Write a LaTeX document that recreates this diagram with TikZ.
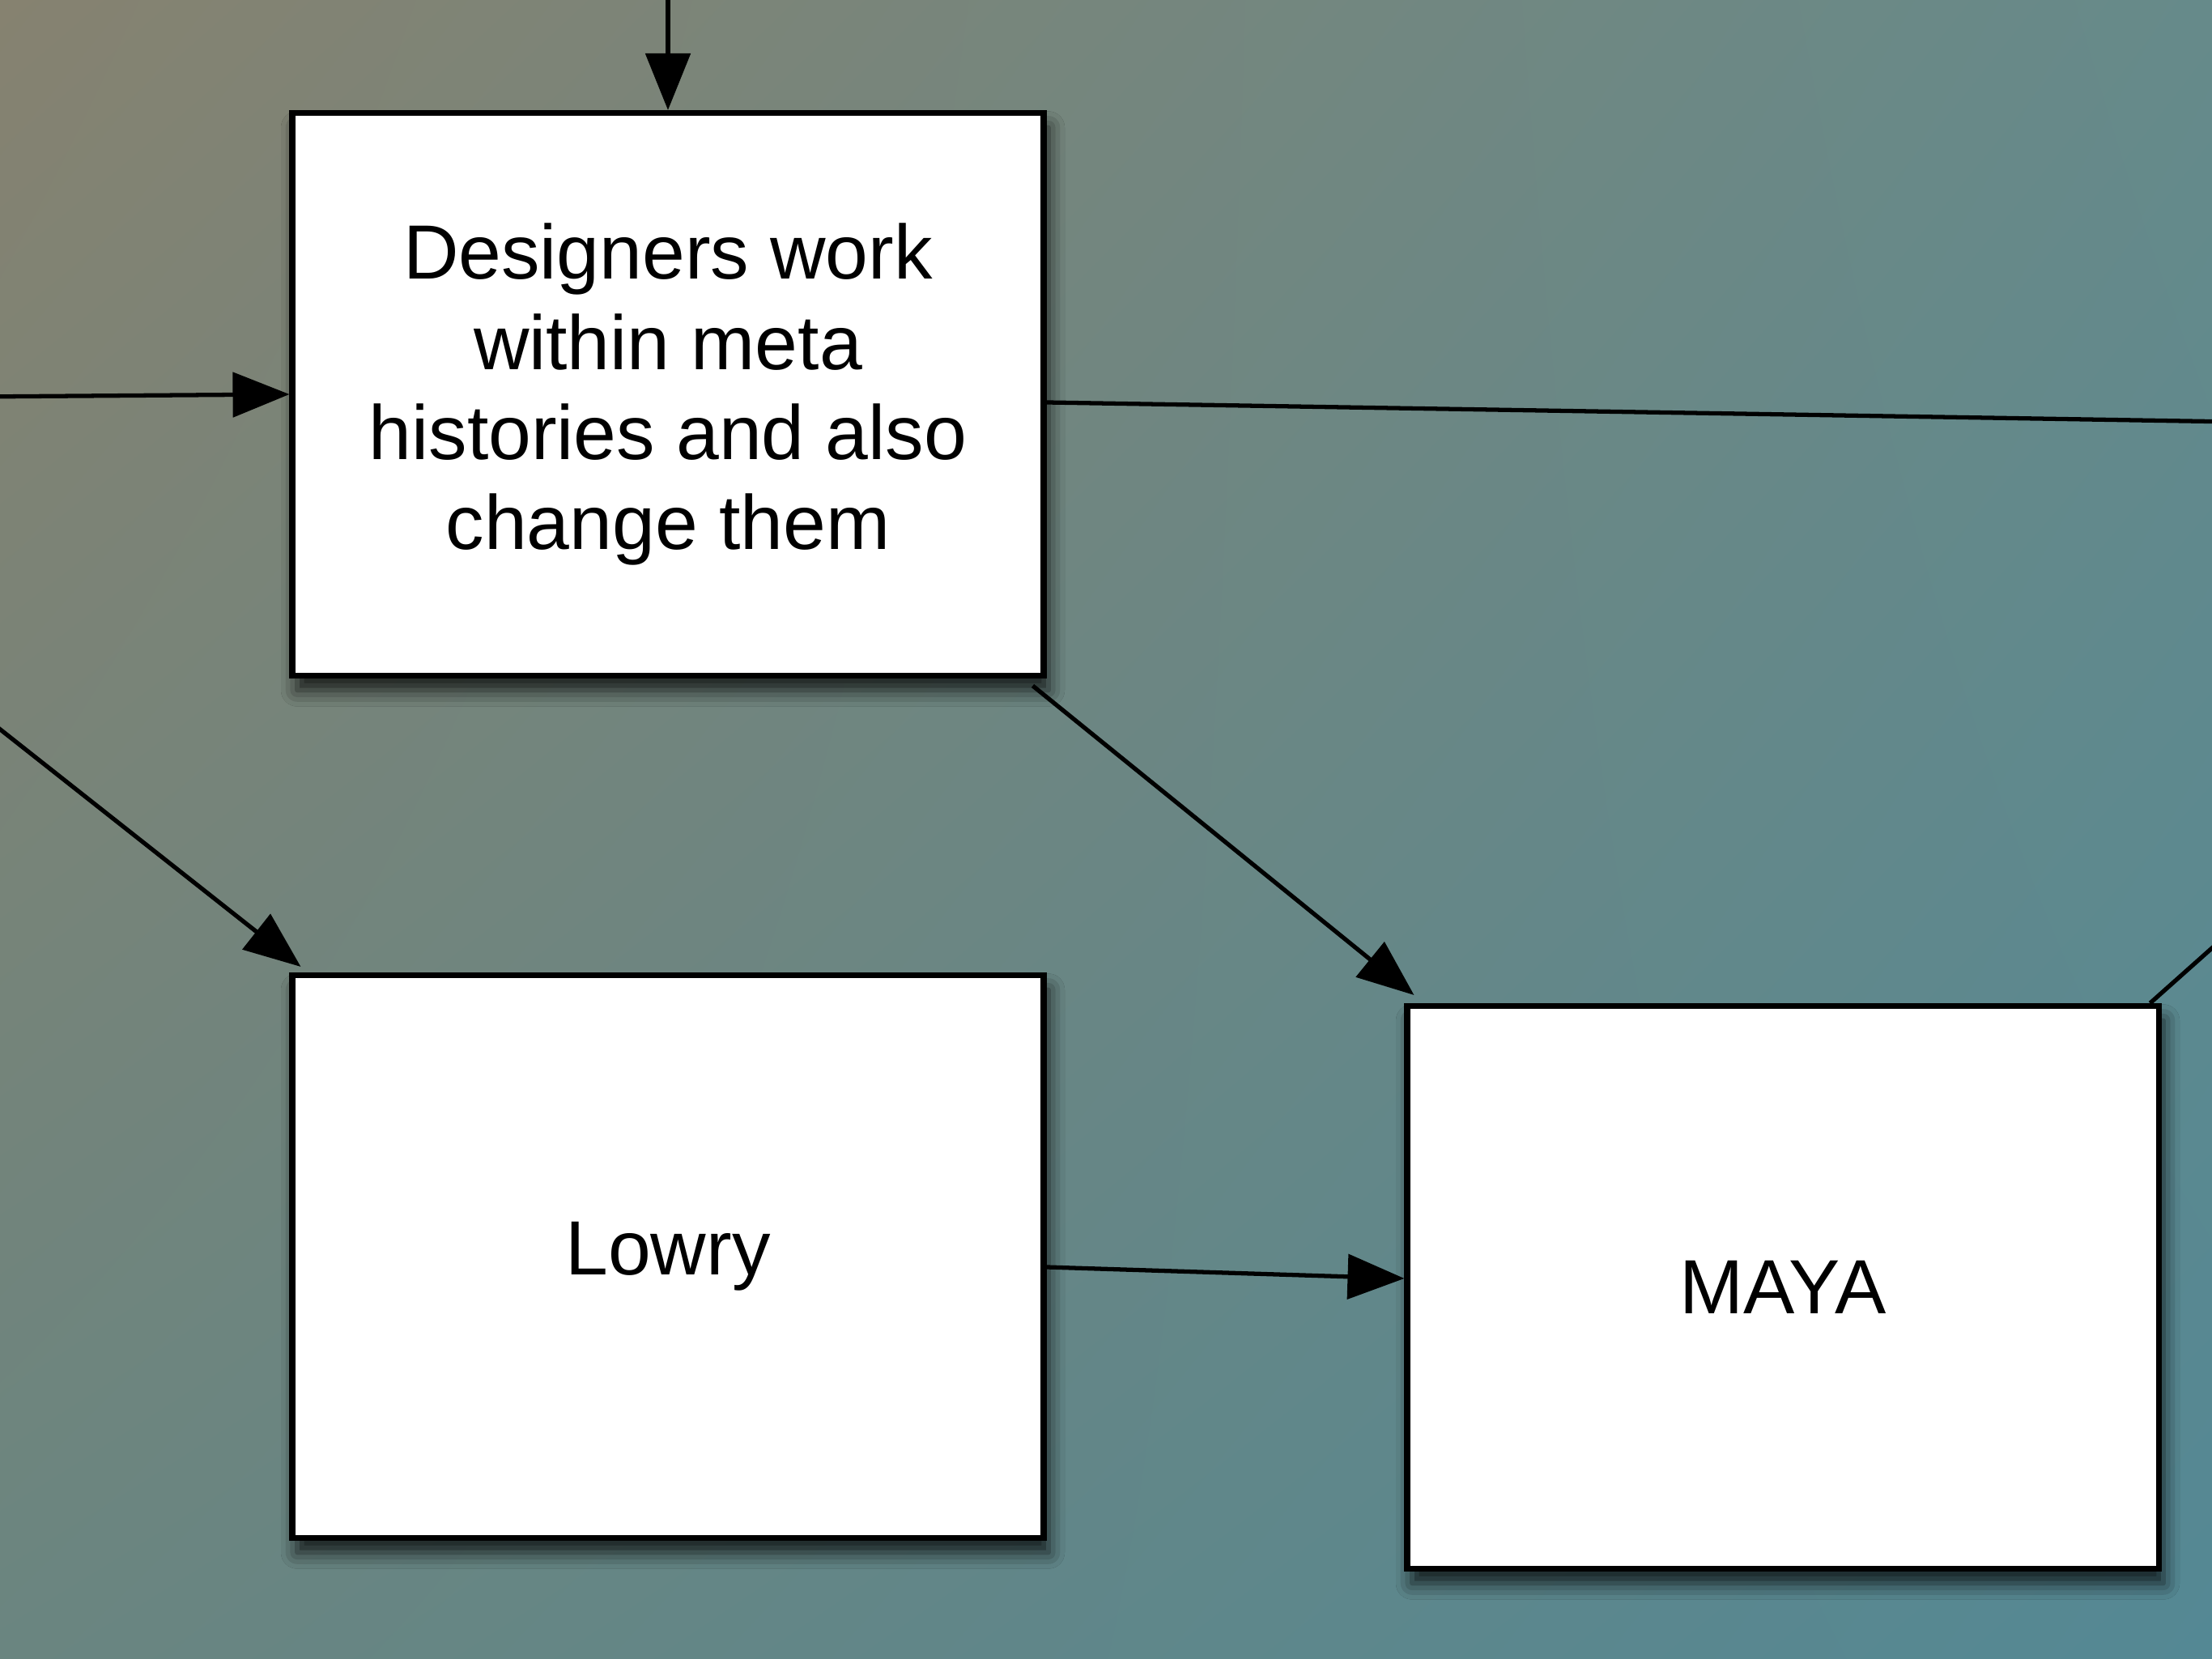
\documentclass[tikz,border=0pt]{standalone}
\usepackage{fontspec}
\setmainfont{Liberation Sans}
\usepackage{xcolor}
\definecolor{bgtl}{RGB}{134,130,112}
\definecolor{bgtr}{RGB}{102,138,138}
\definecolor{bgbl}{RGB}{106,133,128}
\definecolor{bgbr}{RGB}{84,136,148}
\usepackage{tikz}
\usetikzlibrary{arrows.meta, positioning, shadings, shadows.blur}

\tikzset{
  stepbox/.style={draw=black, line width=2pt, fill=white, minimum width=9.28cm, minimum height=6.95cm,
    align=center, font=\fontsize{27}{31.6}\selectfont,
    blur shadow={shadow xshift=0.06cm, shadow yshift=-0.18cm, shadow blur radius=0.2cm, shadow opacity=80}},
  flow/.style={-{Triangle[length=0.7cm, width=0.55cm]}, line width=1.5pt, black},
  link/.style={line width=1.5pt, black}
}

\begin{document}
\begin{tikzpicture}
  \useasboundingbox (0,0) rectangle (27.32,20.48);
  \clip (0,0) rectangle (27.32,20.48);
  % Background
  \shade[upper left=bgtl, upper right=bgtr, lower left=bgbl, lower right=bgbr] (0,0) rectangle (27.32,20.48);

  % --- Boxes ---
  \node[stepbox] (designers) at (8.25,15.61) {Designers work\\within meta\\histories and also\\change them};
  \node[stepbox] (lowry) at (8.25,4.96) {Lowry};
  \node[stepbox] (maya) at (22.02,4.58) {MAYA};

  % --- Free ends off the frame ---
  \coordinate (intop) at (8.25,20.8);
  \coordinate (inleft) at (-0.3,15.58);
  \coordinate (indiag) at (-0.3,11.71);
  \coordinate (outright) at (27.6,15.27);
  \coordinate (outmaya) at (27.6,9.02);

  % --- Connectors ---
  \draw[flow] (intop) -- (designers.north);
  \draw[flow] (inleft) -- (designers.west);
  \draw[flow] (indiag) -- ([xshift=1.4mm,yshift=0.7mm]lowry.north west);
  \draw[link] ([yshift=-1mm]designers.east) -- (outright);
  \draw[flow] ([xshift=-1.7mm,yshift=-0.9mm]designers.south east) -- ([xshift=1.2mm,yshift=1mm]maya.north west);
  \draw[flow] ([yshift=-1.3mm]lowry.east) -- ([yshift=1.1mm]maya.west);
  \draw[link] ([xshift=-1.4mm]maya.north east) -- (outmaya);
\end{tikzpicture}
\end{document}
